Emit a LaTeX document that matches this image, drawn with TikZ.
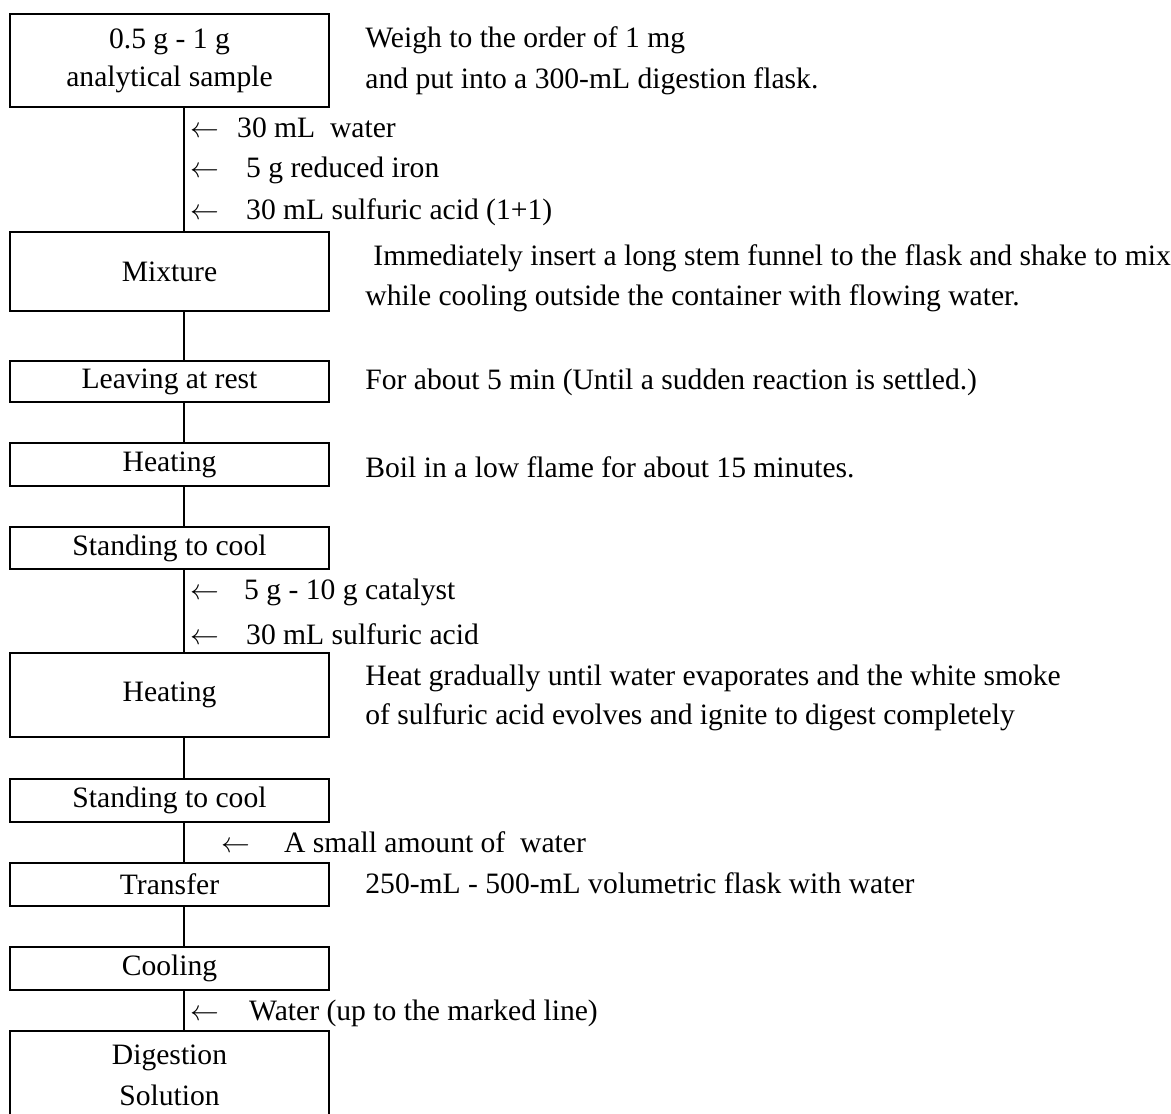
\documentclass[tikz,border=0pt]{standalone}
\usepackage{fontspec}
\setmainfont{Liberation Serif}

\tikzset{
  stage/.style={draw,line width=1.3pt,minimum width=159.5pt,inner sep=0pt,align=center},
  note/.style={anchor=west,inner sep=0pt,align=left},
  flow/.style={line width=1pt}
}

\begin{document}
\begin{tikzpicture}[x=0.5pt,y=-0.5pt,font=\fontsize{14.8pt}{20.5pt}\selectfont]
\useasboundingbox (0,0) rectangle (1171,1113);
\clip (0,0) rectangle (1171,1113);

\coordinate (stem) at (184,0);

%boxes
\node[stage,minimum height=46.5pt] (sample) at (169.5,60.5) {0.5 g - 1 g\\[-1.5pt]analytical sample};
\node[stage,minimum height=39.5pt] (mix) at (169.5,271.5) {Mixture};
\node[stage,minimum height=20.5pt] (rest) at (169.5,381.5) {Leaving at rest};
\node[stage,minimum height=21.5pt] (heat) at (169.5,464.5) {Heating};
\node[stage,minimum height=21pt] (cool) at (169.5,548) {Standing to cool};
\node[stage,minimum height=42pt] (heatb) at (169.5,695) {Heating};
\node[stage,minimum height=21.5pt] (coolb) at (169.5,800.5) {Standing to cool};
\node[stage,minimum height=21.5pt] (move) at (169.5,884.5) {Transfer};
\node[stage,minimum height=21.5pt] (chill) at (169.5,968.5) {Cooling};
\node[stage,minimum height=44pt] (digest) at (169.5,1075) {Digestion\\Solution};

\foreach \a/\b in {sample/mix,mix/rest,rest/heat,heat/cool,cool/heatb,heatb/coolb,coolb/move,move/chill,chill/digest}
  \draw[flow] (\a.south -| stem) -- (\b.north -| stem);

%additions
\node[note] (addwater) at (190,128) {$\leftarrow$\hspace{9pt}30 mL\ \ water};
\node[note] (addiron) at (190,170) {$\leftarrow$\hspace{13.5pt}5 g reduced iron};
\node[note] (addacid) at (190,212) {$\leftarrow$\hspace{13.5pt}30 mL sulfuric acid (1+1)};
\node[note] (addcat) at (190,592) {$\leftarrow$\hspace{12.5pt}5 g - 10 g catalyst};
\node[note] (addacidb) at (190,634) {$\leftarrow$\hspace{13.5pt}30 mL sulfuric acid};
\node[note] (addsmall) at (221,842) {$\leftarrow$\hspace{17pt}A small amount of\ \ water};
\node[note] (addfill) at (190,1013) {$\leftarrow$\hspace{15pt}Water (up to the marked line)};

%remarks
\node[note] (rweigh) at (365,61) {Weigh to the order of 1 mg\\and put into a 300-mL digestion flask.};
\node[note,font=\fontsize{14.8pt}{20pt}\selectfont] (rmix) at (365,278) {\hspace{4pt}Immediately insert a long stem funnel to the flask and shake to mix\\while cooling outside the container with flowing water.};
\node[note] (rrest) at (365,382) {For about 5 min (Until a sudden reaction is settled.)};
\node[note] (rboil) at (365,467) {Boil in a low flame for about 15 minutes.};
\node[note,font=\fontsize{14.8pt}{19.5pt}\selectfont] (rheat) at (365,697.5) {Heat gradually until water evaporates and the white smoke\\of sulfuric acid evolves and ignite to digest completely};
\node[note] (rmove) at (365,883) {250-mL - 500-mL volumetric flask with water};

\end{tikzpicture}
\end{document}
